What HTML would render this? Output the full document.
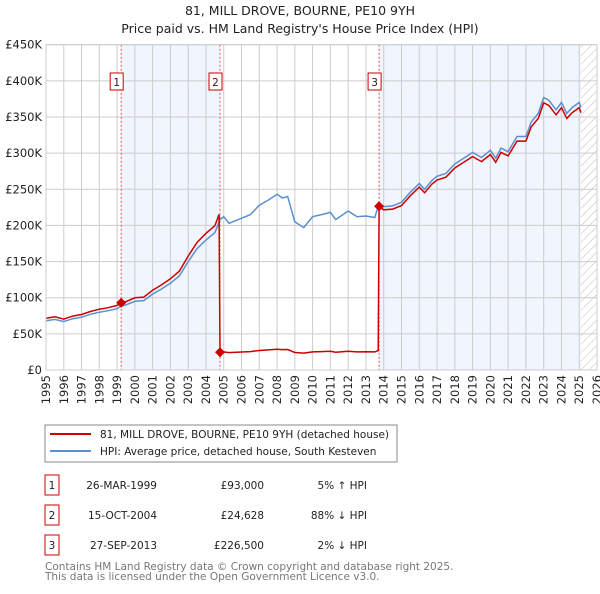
<!DOCTYPE html>
<html><head><meta charset="utf-8"><style>
body{margin:0;background:#fff;font-family:"DejaVu Sans","Liberation Sans",sans-serif;}
svg text{font-family:"DejaVu Sans","Liberation Sans",sans-serif;}
</style></head><body>
<svg id="chart" width="600" height="590" viewBox="0 0 600 590" xmlns="http://www.w3.org/2000/svg">
<defs><pattern id="hatch" width="6" height="6" patternUnits="userSpaceOnUse" patternTransform="rotate(45)"><line x1="0" y1="0" x2="0" y2="6" stroke="#bbb" stroke-width="1"/></pattern></defs>
<text x="300" y="15" text-anchor="middle" font-size="12.5" fill="#222">81, MILL DROVE, BOURNE, PE10 9YH</text>
<text x="300" y="33" text-anchor="middle" font-size="12.5" fill="#222">Price paid vs. HM Land Registry's House Price Index (HPI)</text>
<g id="plot"></g>
<rect x="45" y="425" width="352" height="37" fill="#fff" stroke="#888"/>
<line x1="50" y1="434" x2="91" y2="434" stroke="#cc0000" stroke-width="2"/>
<text x="100" y="438" font-size="10.5" fill="#222">81, MILL DROVE, BOURNE, PE10 9YH (detached house)</text>
<line x1="50" y1="451" x2="91" y2="451" stroke="#5b8fd0" stroke-width="2"/>
<text x="100" y="455" font-size="10.5" fill="#222">HPI: Average price, detached house, South Kesteven</text>
<g id="table" font-size="10.5" fill="#222"></g>
<text x="45" y="570" font-size="10.5" fill="#777">Contains HM Land Registry data © Crown copyright and database right 2025.</text>
<text x="45" y="580" font-size="10.5" fill="#777">This data is licensed under the Open Government Licence v3.0.</text>
</svg>
<script>
const hpiYears=[1995,1995.5,1996,1996.5,1997,1997.5,1998,1998.5,1999,1999.23,1999.5,2000,2000.5,2001,2001.5,2002,2002.5,2003,2003.5,2004,2004.5,2004.79,2005,2005.3,2006,2006.5,2007,2007.5,2008,2008.3,2008.6,2009,2009.5,2010,2010.5,2011,2011.3,2012,2012.5,2013,2013.5,2013.74,2014,2014.5,2015,2015.5,2016,2016.3,2016.7,2017,2017.5,2018,2018.5,2019,2019.5,2020,2020.3,2020.6,2021,2021.5,2022,2022.3,2022.7,2023,2023.3,2023.7,2024,2024.3,2024.6,2025,2025.1];
const hpiValues=[68,70,67,71,73,77,80,82,85,88.5,90,95,96,105,112,120,130,150,168,180,190,208,212,203,210,215,228,235,243,238,240,205,197,212,215,218,208,220,212,213,211,231,226,227,232,246,258,250,262,268,272,285,293,301,294,304,293,307,302,323,323,343,355,377,373,360,370,355,363,370,363].map(v=>v*1000);
const saleYears=[1999.23,2004.79,2013.74];
const salePrices=[93000,24628,226500];
const saleDates=["26-MAR-1999","15-OCT-2004","27-SEP-2013"];
const saleLabels=["£93,000","£24,628","£226,500"];
const saleHpi=["5% \u2191 HPI","88% \u2193 HPI","2% \u2193 HPI"];
const yTicks=[0,50000,100000,150000,200000,250000,300000,350000,400000,450000];
const yTickLabels=["£0","£50K","£100K","£150K","£200K","£250K","£300K","£350K","£400K","£450K"];
const xTicks=[1995,1996,1997,1998,1999,2000,2001,2002,2003,2004,2005,2006,2007,2008,2009,2010,2011,2012,2013,2014,2015,2016,2017,2018,2019,2020,2021,2022,2023,2024,2025,2026];

const NS="http://www.w3.org/2000/svg";
const X0=46,X1=597,Y0=370,Y1=44.7;
const xS=y=>X0+(y-1995)/(2026-1995)*(X1-X0);
const yS=v=>Y0-v/450000*(Y0-Y1);
const plot=document.getElementById('plot');
function mk(t,a,p){const e=document.createElementNS(NS,t);for(const k in a)e.setAttribute(k,a[k]);(p||plot).appendChild(e);return e;}
function hpiAt(y){for(let i=1;i<hpiYears.length;i++){if(y<=hpiYears[i]){const t=(y-hpiYears[i-1])/(hpiYears[i]-hpiYears[i-1]);return hpiValues[i-1]+t*(hpiValues[i]-hpiValues[i-1]);}}return hpiValues[hpiValues.length-1];}

let r=mk('rect',{x:xS(saleYears[0]),y:Y1,width:xS(saleYears[1])-xS(saleYears[0]),height:Y0-Y1,fill:'#eef3fc',opacity:0.8});

r=mk('rect',{x:xS(saleYears[2]),y:Y1,width:xS(2025.1)-xS(saleYears[2]),height:Y0-Y1,fill:'#eef3fc',opacity:0.8});

r=mk('rect',{x:xS(2025.1),y:Y1,width:X1-xS(2025.1),height:Y0-Y1,fill:'url(#hatch)'});


yTicks.forEach((v,i)=>{
 const l=mk('line',{x1:X0,x2:X1,y1:yS(v),y2:yS(v),stroke:'#ccc','stroke-width':1});
 
 const t=mk('text',{x:X0-4,y:yS(v)+4,'text-anchor':'end','font-size':11.5,fill:'#222'});
 t.textContent=yTickLabels[i];
 
});
xTicks.forEach(y=>{
 const l=mk('line',{x1:xS(y),x2:xS(y),y1:Y1,y2:Y0,stroke:'#ccc','stroke-width':1});
 
 const x=xS(y),ty=Y0+5;
 const t=mk('text',{x:x,y:ty,'text-anchor':'end','font-size':11.5,fill:'#222',transform:`rotate(-90 ${x} ${ty}) translate(0 4)`});
 t.textContent=y;
 
});
saleYears.forEach(y=>{
 const l=mk('line',{x1:xS(y),x2:xS(y),y1:Y1,y2:Y0,stroke:'#e05050','stroke-width':1,'stroke-dasharray':'2,2'});
 
});
let d=hpiYears.map((y,i)=>(i?'L':'M')+xS(y).toFixed(1)+','+yS(hpiValues[i]).toFixed(1)).join(' ');
let p=mk('path',{d:d,fill:'none',stroke:'#5b8fd0','stroke-width':1.5});

const pts=[];
const r0=salePrices[0]/hpiAt(saleYears[0]);
hpiYears.forEach((y,i)=>{
 let k=-1;for(let s=0;s<saleYears.length;s++)if(y>=saleYears[s])k=s;
 const ratio=k<0?r0:salePrices[k]/hpiAt(saleYears[k]);
 pts.push([y,hpiValues[i]*ratio]);
});
const all=[];
pts.forEach(pt=>{
 const s=saleYears.indexOf(pt[0]);
 if(s>0){const prevRatio=salePrices[s-1]/hpiAt(saleYears[s-1]);all.push([pt[0]-0.05,hpiAt(pt[0]-0.05)*prevRatio]);}
 all.push(pt);
});
d=all.map((q,i)=>(i?'L':'M')+xS(q[0]).toFixed(1)+','+yS(q[1]).toFixed(1)).join(' ');
p=mk('path',{d:d,fill:'none',stroke:'#cc0000','stroke-width':1.5});

saleYears.forEach((y,i)=>{
 const x=xS(y),yy=yS(salePrices[i]);
 const m=mk('polygon',{points:`${x},${yy-5} ${x+5},${yy} ${x},${yy+5} ${x-5},${yy}`,fill:'#cc0000'});
 
 const b=mk('rect',{x:x-11,y:73,width:13,height:17,fill:'#fff',stroke:'#cc0000'});
 
 const t=mk('text',{x:x-4.5,y:86,'text-anchor':'middle','font-size':10.5,fill:'#222'});
 t.textContent=i+1;
 
});
const fr=mk('rect',{x:X0,y:Y1,width:X1-X0,height:Y0-Y1,fill:'none',stroke:'#ccc'});

const tb=document.getElementById('table');
saleYears.forEach((y,i)=>{
 const cy=483+i*30;
 const b=mk('rect',{x:45,y:cy-8,width:14,height:20,fill:'#fff',stroke:'#cc0000'},tb);
 
 const vals=[[52,'middle',String(i+1)],[157,'end',saleDates[i]],[264,'end',saleLabels[i]],[367,'end',saleHpi[i]]];
 vals.forEach(v=>{const t=mk('text',{x:v[0],y:cy+6,'text-anchor':v[1]},tb);t.textContent=v[2];
  });
});
</script>
</body></html>
